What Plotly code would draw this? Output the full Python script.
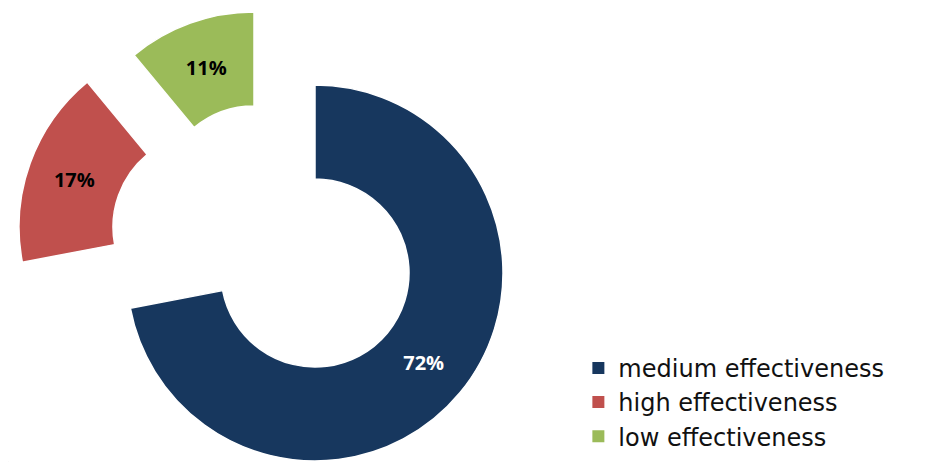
import plotly.graph_objects as go

# ---- data ----
labels = ["medium effectiveness", "high effectiveness", "low effectiveness"]
values = [72, 17, 11]
colors = ["#17375E", "#C0504D", "#9BBB59"]
text_colors = ["white", "black", "black"]

# ---- layout helpers (pixel geometry of figure) ----
W, H = 917, 454
R = 188
centers = [(307, 265), (199, 219), (246, 192)]  # unpulled / exploded slice positions


def domain(cx, cy, r=R):
    return dict(x=[(cx - r) / W, (cx + r) / W], y=[1 - (cy + r) / H, 1 - (cy - r) / H])


fig = go.Figure()

# legend carrier (tiny pie, invisible on the page) so swatches use the real colours
fig.add_trace(go.Pie(
    labels=labels, values=values, sort=False, direction="clockwise", rotation=0,
    marker=dict(colors=colors, line=dict(width=0)),
    textinfo="none", hoverinfo="skip",
    domain=dict(x=[0, 0.0005], y=[0, 0.0005]),
    showlegend=True,
))

# one pie per slice so that each slice can be exploded by its own amount
for k in range(len(values)):
    slice_colors = [c if i == k else "rgba(0,0,0,0)" for i, c in enumerate(colors)]
    line_colors = ["white" if i == k else "rgba(0,0,0,0)" for i in range(len(values))]
    tmpl = ["%{percent:.0%}" if i == k else "" for i in range(len(values))]
    cx, cy = centers[k]
    fig.add_trace(go.Pie(
        labels=labels, values=values, sort=False, direction="clockwise", rotation=0,
        hole=0.5,
        marker=dict(colors=slice_colors, line=dict(color=line_colors, width=1.5)),
        texttemplate=tmpl, textposition="inside", insidetextorientation="horizontal",
        insidetextfont=dict(family="Open Sans", size=20, color=text_colors,
                            weight="bold"),
        hoverinfo="label+percent",
        domain=domain(cx, cy),
        showlegend=False,
    ))

fig.update_layout(
    width=W, height=H,
    margin=dict(l=0, r=0, t=0, b=0),
    paper_bgcolor="white", plot_bgcolor="white",
    legend=dict(
        x=0.622, y=0.256, xanchor="left", yanchor="top",
        font=dict(family="DejaVu Sans", size=24, color="#111111"),
        bgcolor="rgba(0,0,0,0)", itemclick=False, itemdoubleclick=False,
    ),
)

fig.write_html("out.html")
